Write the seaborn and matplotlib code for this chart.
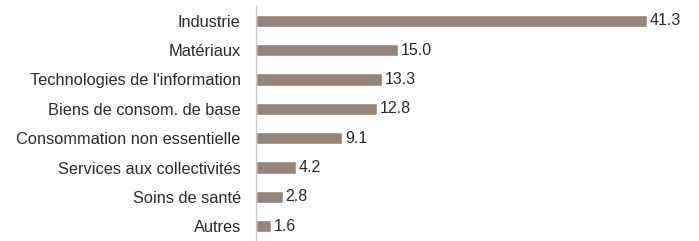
import matplotlib
matplotlib.use('Agg')
import matplotlib.pyplot as plt
import seaborn as sns
import pandas as pd

sectors = ['Industrie', 'Matériaux', "Technologies de l'information",
           'Biens de consom. de base', 'Consommation non essentielle',
           'Services aux collectivités', 'Soins de santé', 'Autres']
weights = [41.3, 15.0, 13.3, 12.8, 9.1, 4.2, 2.8, 1.6]

df = pd.DataFrame({'sector': sectors, 'weight': weights})

sns.set_style('white')
plt.rcParams['font.family'] = ['Liberation Sans', 'DejaVu Sans']

fig = plt.figure(figsize=(6.99, 2.41), dpi=100)
ax = fig.add_axes([256 / 699, 0.0, 1 - 256 / 699, 1 - 6 / 241])
sns.barplot(data=df, x='weight', y='sector', color='#958579', width=0.42,
            saturation=1, ax=ax)

# value labels at the end of each bar
for i, v in enumerate(weights):
    ax.text(v + 0.3, i, '%.1f' % v, va='center', ha='left',
            fontsize=11.5, color='#2a2a2a')

ax.set_xlim(0, 46.8)
ax.set_ylim(7.5, -0.5)
ax.set_xlabel('')
ax.set_ylabel('')
ax.set_xticks([])
for s in ['top', 'right', 'bottom']:
    ax.spines[s].set_visible(False)
ax.spines['left'].set_color('#c8c8c8')
ax.spines['left'].set_linewidth(1)
ax.tick_params(axis='y', length=0, pad=11, labelsize=11.8, labelcolor='#2a2a2a')

fig.savefig('out.png', dpi=100)
